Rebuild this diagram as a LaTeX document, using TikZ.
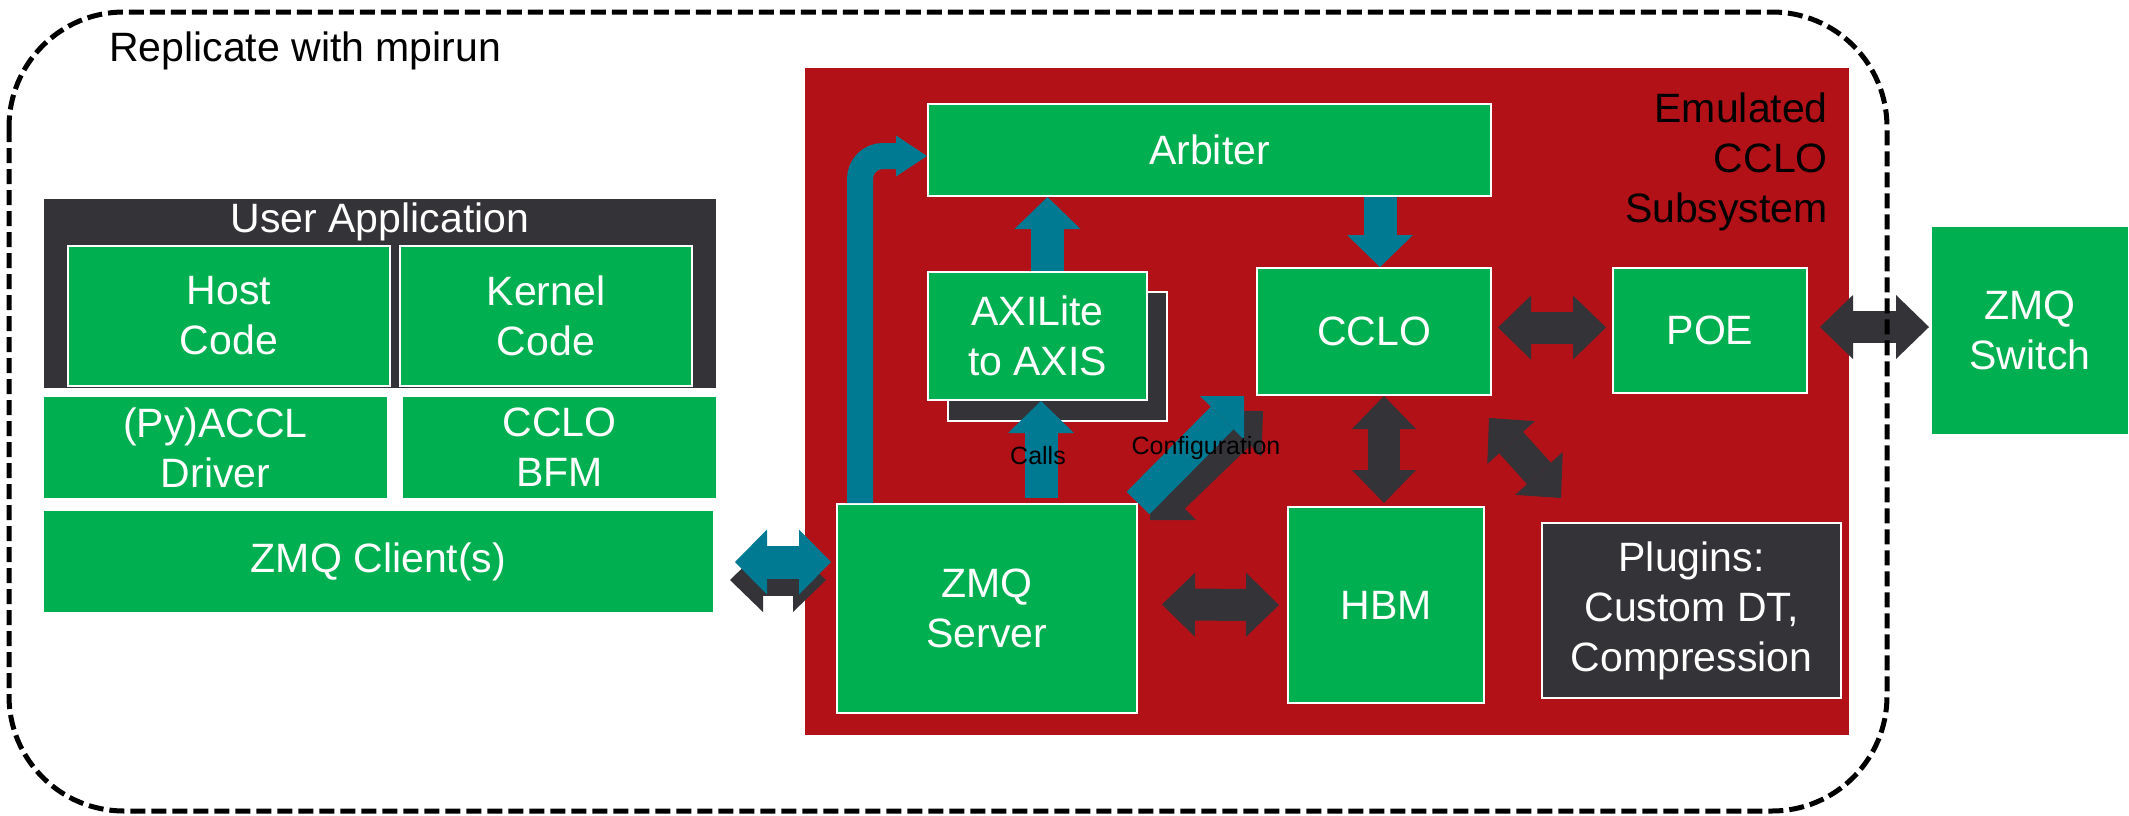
\documentclass[tikz,border=0pt]{standalone}
\usepackage{fontspec}
\setmainfont{Liberation Sans}
\usetikzlibrary{arrows.meta,calc}
\definecolor{accgreen}{HTML}{00B050}
\definecolor{accred}{HTML}{B21118}
\definecolor{accteal}{HTML}{007A92}
\definecolor{accdark}{HTML}{333338}
\begin{document}
\begin{tikzpicture}[x=1pt,y=-1pt,
  box/.style={draw=white, line width=2pt, inner sep=0pt, align=center, text=white,
    font=\fontsize{41}{50}\selectfont, anchor=north west},
  gbox/.style={box, fill=accgreen},
  dbox/.style={box, fill=accdark},
  bigtext/.style={inner sep=0pt, font=\fontsize{41}{50}\selectfont},
  lbl/.style={inner sep=0pt, font=\fontsize{25}{30}\selectfont, text=black},
  tarrow/.style={draw=accteal, line width=33pt,
    -{Triangle[width=66pt,length=32pt,line width=0pt]}},
  darrow/.style={draw=accdark, line width=32pt,
    {Triangle[width=64pt,length=33pt,line width=0pt]}-{Triangle[width=64pt,length=33pt,line width=0pt]}},
  tdarrow/.style={draw=accteal, line width=33pt,
    {Triangle[width=65pt,length=32pt,line width=0pt]}-{Triangle[width=65pt,length=32pt,line width=0pt]}},
  looparrow/.style={draw=accteal, line width=26pt, rounded corners=23pt,
    -{Triangle[width=41pt,length=31pt,line width=0pt]}}
]
\useasboundingbox (0,0) rectangle (2129,815);
\fill[white] (0,0) rectangle (2129,815);

% title
\node[bigtext, anchor=base west] (title) at (109,61) {Replicate with mpirun};

% left stack
\node[dbox, minimum width=674pt, minimum height=191pt] (ua) at (42,197) {};
\node[bigtext, anchor=base, text=white] (uatitle) at ($(ua.north)+(0,35)$) {User Application};
\node[gbox, minimum width=322pt, minimum height=140pt] (host) at (67,245) {Host\\Code};
\node[gbox, minimum width=292pt, minimum height=140pt] (kern) at (399,245) {Kernel\\Code};
\node[gbox, minimum width=345pt, minimum height=103pt] (drv) at (42,395) {(Py)ACCL\\Driver};
\node[gbox, minimum width=315pt, minimum height=103pt] (bfm) at (401,395) {CCLO\\BFM};
\node[gbox, minimum width=671pt, minimum height=103pt] (zc) at (42,509) {ZMQ Client(s)};

% emulated subsystem
\node[anchor=north west, fill=accred, inner sep=0pt, minimum width=1044pt, minimum height=667pt] (red) at (805,68) {};
\node[bigtext, anchor=north east, align=right, text=black] (emu) at (1828,93) {Emulated\\CCLO\\Subsystem};
\node[gbox, minimum width=563pt, minimum height=92pt] (arb) at (927,103) {Arbiter};
\node[dbox, minimum width=219pt, minimum height=129pt] (axs) at (947,291) {};
\node[gbox, minimum width=219pt, minimum height=128pt] (axi) at (927,271) {AXILite\\to AXIS};
\node[gbox, minimum width=234pt, minimum height=127pt] (cclo) at (1256,267) {CCLO};
\node[gbox, minimum width=194pt, minimum height=125pt] (poe) at (1612,267) {POE};
\node[gbox, minimum width=300pt, minimum height=209pt] (zs) at (836,503) {ZMQ\\Server};
\node[gbox, minimum width=196pt, minimum height=196pt] (hbm) at (1287,506) {HBM};
\node[dbox, minimum width=299pt, minimum height=175pt] (plug) at (1541,522) {Plugins:\\Custom DT,\\Compression};
\node[gbox, minimum width=198pt, minimum height=209pt] (sw) at (1930,225) {ZMQ\\Switch};

% arrows
\coordinate (a1) at ($(cclo.north)+(6,0)$);
\draw[tarrow] (arb.south -| a1) -- (a1);
\coordinate (a2) at ($(axi.north)+(10,0)$);
\draw[tarrow] (a2) -- (arb.south -| a2);
\coordinate (a3) at ($(zs.north west)+(205,-5)$);
\draw[tarrow] (a3) -- (axi.south -| a3);
\draw[looparrow] ($(zs.north west)+(24,0)$) |- ($(arb.west)+(0,6)$);

\draw[darrow] ($(zs.north east)+(12,17)$) -- ($(cclo.south west)+(7,15)$);
\draw[draw=accteal, line width=32pt, -{Triangle[width=62pt,length=31pt,line width=0pt]}]
  (zs.north east) -- ($(cclo.south west)+(-12,0)$);

\draw[darrow] ($(cclo.south)+(10,0)$) -- ($(hbm.north)+(-2,-3)$);
\draw[darrow] ($(cclo.south east)+(-3,22)$) -- ($(plug.north west)+(20,-24)$);
\draw[darrow] ($(cclo.east)+(6,-4)$) -- ($(poe.west)+(-6,-3)$);
\draw[darrow] ($(poe.east)+(12,-3.5)$) -- ($(sw.west)+(-1,-3.5)$);
\draw[darrow] ($(zs.east)+(24,-4)$) -- ($(hbm.west)+(-8,0)$);

\draw[darrow] ($(zc.east)+(15,18.5)$) -- ($(zs.west)+(-10,-28.5)$);
\draw[tdarrow] ($(zc.east)+(20,0.5)$) -- ($(zs.west)+(-5,-46.5)$);

% labels
\node[lbl] (calls) at (1038,456) {Calls};
\node[lbl] (config) at (1206,448) {Configuration};

% dashed border
\draw[black, line width=5pt, dash pattern=on 15pt off 6pt, rounded corners=115pt]
  (9,12) rectangle (1887,811);
\end{tikzpicture}
\end{document}
